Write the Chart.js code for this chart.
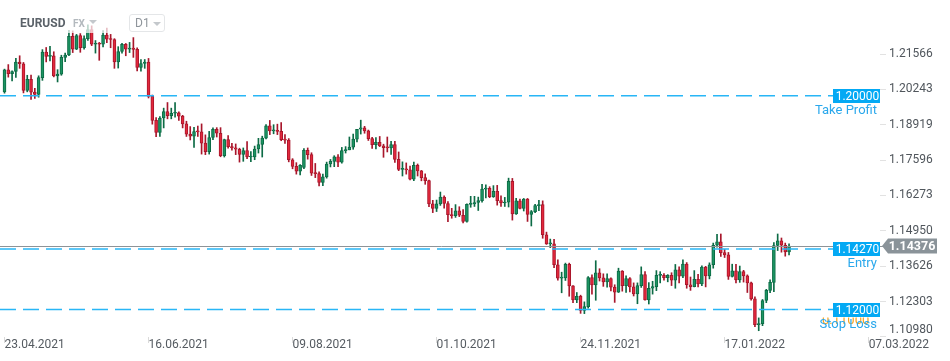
<!DOCTYPE html>
<html>
<head>
<meta charset="utf-8">
<script src="https://cdn.jsdelivr.net/npm/chart.js@4.4.1/dist/chart.umd.min.js"></script>
<style>
  html, body { margin: 0; padding: 0; background: #fff; overflow: hidden; }
  #wrap { position: relative; width: 950px; height: 361px; }
  #chart { position: absolute; left: 0; top: 0; }
  #hdr { position: absolute; left: 0; top: 0; width: 950px; height: 33px; background: rgba(255,255,255,0.72); font-family: Roboto, sans-serif; }
  #hdr .sym { position: absolute; left: 20px; top: 16px; font-weight: bold; font-size: 12px; color: #5b6269; }
  #hdr .fx { position: absolute; left: 73px; top: 18px; font-weight: bold; font-size: 10px; color: #b3b9be; }
  #hdr .tri { position: absolute; width: 0; height: 0; border-left: 4px solid transparent; border-right: 4px solid transparent; border-top: 4px solid #c4c8cc; }
  #hdr .tf { position: absolute; left: 129px; top: 14px; width: 34px; height: 16px; border: 1px solid #e4e6e8; border-radius: 3px; }
  #hdr .tf span { position: absolute; left: 5px; top: 1px; font-size: 12px; color: #8f959b; }
</style>
</head>
<body>
<div id="wrap">
  <canvas id="chart" width="950" height="361"></canvas>
  <div id="hdr">
    <span class="sym">EURUSD</span>
    <span class="fx">FX</span>
    <div class="tri" style="left:89px;top:20px"></div>
    <div class="tf"><span>D1</span><div class="tri" style="left:23px;top:7px"></div></div>
  </div>
</div>
<script>
// daily candles, 23.04.2021 .. 09.02.2022
const opens = [
  1.2015,1.2097,1.2083,1.2091,1.2126,1.2120,1.2020,1.2062,1.2014,1.2005,
  1.2068,1.2164,1.2148,1.2150,1.2075,1.2081,1.2144,1.2153,1.2223,1.2175,
  1.2226,1.2180,1.2214,1.2248,1.2193,1.2194,1.2193,1.2227,1.2212,1.2211,
  1.2127,1.2166,1.2193,1.2175,1.2179,1.2174,1.2106,1.2121,1.2126,1.1998,
  1.1908,1.1863,1.1917,1.1941,1.1926,1.1935,1.1936,1.1924,1.1895,1.1857,
  1.1849,1.1866,1.1865,1.1823,1.1791,1.1844,1.1875,1.1860,1.1776,1.1836,
  1.1810,1.1805,1.1800,1.1781,1.1795,1.1771,1.1771,1.1801,1.1818,1.1842,
  1.1888,1.1869,1.1871,1.1867,1.1836,1.1834,1.1761,1.1736,1.1718,1.1732,
  1.1796,1.1780,1.1711,1.1709,1.1676,1.1697,1.1745,1.1755,1.1772,1.1752,
  1.1795,1.1798,1.1808,1.1838,1.1875,1.1880,1.1869,1.1840,1.1817,1.1826,
  1.1813,1.1806,1.1805,1.1818,1.1762,1.1725,1.1727,1.1723,1.1688,1.1740,
  1.1719,1.1694,1.1683,1.1596,1.1579,1.1596,1.1621,1.1597,1.1555,1.1552,
  1.1570,1.1553,1.1530,1.1594,1.1596,1.1601,1.1608,1.1651,1.1654,1.1623,
  1.1643,1.1608,1.1599,1.1602,1.1680,1.1558,1.1607,1.1579,1.1614,1.1556,
  1.1567,1.1589,1.1593,1.1480,1.1446,1.1446,1.1368,1.1318,1.1319,1.1369,
  1.1289,1.1236,1.1250,1.1197,1.1211,1.1320,1.1292,1.1338,1.1319,1.1304,
  1.1316,1.1284,1.1265,1.1344,1.1290,1.1316,1.1285,1.1259,1.1290,1.1331,
  1.1236,1.1280,1.1286,1.1328,1.1328,1.1320,1.1328,1.1310,1.1349,1.1325,
  1.1370,1.1293,1.1286,1.1313,1.1296,1.1359,1.1326,1.1368,1.1441,1.1454,
  1.1413,1.1405,1.1324,1.1345,1.1311,1.1342,1.1326,1.1300,1.1240,1.1144,
  1.1147,1.1234,1.1272,1.1302,1.1440,1.1457,1.1441,1.1416
]
const highs = [
  1.2100,1.2117,1.2094,1.2140,1.2150,1.2125,1.2077,1.2078,1.2028,1.2075,
  1.2173,1.2181,1.2185,1.2165,1.2098,1.2152,1.2160,1.2245,1.2243,1.2230,
  1.2233,1.2225,1.2266,1.2262,1.2207,1.2200,1.2244,1.2254,1.2230,1.2214,
  1.2184,1.2197,1.2196,1.2200,1.2218,1.2180,1.2136,1.2136,1.2140,1.2003,
  1.1919,1.1922,1.1954,1.1975,1.1954,1.1975,1.1940,1.1927,1.1905,1.1885,
  1.1882,1.1887,1.1895,1.1854,1.1867,1.1880,1.1881,1.1881,1.1838,1.1851,
  1.1822,1.1820,1.1804,1.1805,1.1829,1.1791,1.1812,1.1841,1.1849,1.1892,
  1.1908,1.1892,1.1894,1.1900,1.1855,1.1840,1.1765,1.1750,1.1743,1.1803,
  1.1805,1.1787,1.1747,1.1716,1.1707,1.1752,1.1762,1.1776,1.1780,1.1807,
  1.1810,1.1846,1.1857,1.1873,1.1909,1.1886,1.1872,1.1845,1.1844,1.1848,
  1.1819,1.1846,1.1830,1.1830,1.1790,1.1753,1.1749,1.1737,1.1752,1.1745,
  1.1721,1.1708,1.1685,1.1609,1.1610,1.1640,1.1626,1.1604,1.1579,1.1593,
  1.1585,1.1574,1.1596,1.1624,1.1624,1.1621,1.1669,1.1667,1.1660,1.1664,
  1.1665,1.1626,1.1620,1.1692,1.1691,1.1616,1.1614,1.1616,1.1616,1.1571,
  1.1594,1.1609,1.1607,1.1490,1.1464,1.1463,1.1386,1.1340,1.1374,1.1374,
  1.1290,1.1264,1.1254,1.1229,1.1324,1.1330,1.1383,1.1353,1.1334,1.1334,
  1.1319,1.1293,1.1355,1.1346,1.1326,1.1320,1.1300,1.1300,1.1360,1.1342,
  1.1301,1.1306,1.1346,1.1342,1.1335,1.1331,1.1338,1.1369,1.1360,1.1386,
  1.1376,1.1322,1.1346,1.1332,1.1364,1.1362,1.1375,1.1449,1.1482,1.1483,
  1.1425,1.1414,1.1370,1.1369,1.1363,1.1347,1.1330,1.1303,1.1248,1.1169,
  1.1238,1.1276,1.1311,1.1451,1.1483,1.1468,1.1449,1.1446
]
const lows = [
  1.2010,1.2070,1.2056,1.2069,1.2103,1.2011,1.2015,1.1987,1.1990,1.1995,
  1.2058,1.2127,1.2131,1.2071,1.2052,1.2077,1.2128,1.2150,1.2162,1.2173,
  1.2163,1.2175,1.2207,1.2188,1.2160,1.2133,1.2183,1.2199,1.2180,1.2103,
  1.2104,1.2160,1.2150,1.2162,1.2144,1.2093,1.2092,1.2103,1.1992,1.1894,
  1.1847,1.1848,1.1880,1.1914,1.1914,1.1920,1.1908,1.1880,1.1848,1.1835,
  1.1807,1.1848,1.1782,1.1780,1.1782,1.1836,1.1846,1.1772,1.1771,1.1804,
  1.1797,1.1780,1.1752,1.1755,1.1765,1.1754,1.1761,1.1786,1.1771,1.1839,
  1.1855,1.1858,1.1855,1.1832,1.1822,1.1753,1.1727,1.1707,1.1704,1.1727,
  1.1763,1.1702,1.1694,1.1663,1.1664,1.1692,1.1734,1.1735,1.1735,1.1748,
  1.1786,1.1798,1.1800,1.1828,1.1857,1.1860,1.1833,1.1803,1.1801,1.1810,
  1.1770,1.1790,1.1781,1.1751,1.1720,1.1700,1.1707,1.1685,1.1683,1.1700,
  1.1682,1.1669,1.1585,1.1563,1.1567,1.1590,1.1580,1.1529,1.1542,1.1545,
  1.1548,1.1524,1.1527,1.1583,1.1586,1.1571,1.1602,1.1618,1.1619,1.1620,
  1.1591,1.1586,1.1586,1.1584,1.1535,1.1556,1.1577,1.1569,1.1530,1.1513,
  1.1563,1.1570,1.1467,1.1444,1.1432,1.1357,1.1310,1.1263,1.1309,1.1250,
  1.1226,1.1226,1.1186,1.1185,1.1205,1.1258,1.1235,1.1307,1.1287,1.1284,
  1.1270,1.1227,1.1264,1.1269,1.1264,1.1266,1.1251,1.1222,1.1283,1.1235,
  1.1221,1.1258,1.1271,1.1300,1.1310,1.1304,1.1290,1.1280,1.1300,1.1320,
  1.1280,1.1272,1.1285,1.1285,1.1290,1.1285,1.1315,1.1355,1.1434,1.1399,
  1.1395,1.1313,1.1322,1.1300,1.1302,1.1303,1.1264,1.1235,1.1136,1.1121,
  1.1140,1.1226,1.1263,1.1267,1.1421,1.1415,1.1400,1.1405
]
const closes = [
  1.2097,1.2083,1.2091,1.2126,1.2120,1.2020,1.2062,1.2014,1.2005,1.2068,
  1.2164,1.2148,1.2150,1.2075,1.2081,1.2144,1.2153,1.2223,1.2175,1.2226,
  1.2180,1.2214,1.2248,1.2193,1.2194,1.2193,1.2227,1.2212,1.2211,1.2127,
  1.2166,1.2193,1.2175,1.2179,1.2174,1.2106,1.2121,1.2126,1.1998,1.1908,
  1.1863,1.1917,1.1941,1.1926,1.1935,1.1936,1.1924,1.1895,1.1857,1.1849,
  1.1866,1.1865,1.1823,1.1791,1.1844,1.1875,1.1860,1.1776,1.1836,1.1810,
  1.1805,1.1800,1.1781,1.1795,1.1771,1.1771,1.1801,1.1818,1.1842,1.1888,
  1.1869,1.1871,1.1867,1.1836,1.1834,1.1761,1.1736,1.1718,1.1740,1.1796,
  1.1780,1.1711,1.1709,1.1676,1.1697,1.1745,1.1755,1.1772,1.1752,1.1795,
  1.1798,1.1808,1.1838,1.1875,1.1880,1.1869,1.1840,1.1817,1.1826,1.1813,
  1.1806,1.1805,1.1818,1.1762,1.1725,1.1727,1.1723,1.1688,1.1740,1.1719,
  1.1694,1.1683,1.1596,1.1579,1.1596,1.1621,1.1597,1.1555,1.1552,1.1570,
  1.1553,1.1530,1.1594,1.1596,1.1601,1.1608,1.1651,1.1654,1.1623,1.1643,
  1.1608,1.1599,1.1602,1.1680,1.1558,1.1607,1.1579,1.1614,1.1556,1.1567,
  1.1589,1.1593,1.1480,1.1446,1.1446,1.1368,1.1318,1.1319,1.1369,1.1289,
  1.1236,1.1250,1.1197,1.1211,1.1320,1.1292,1.1338,1.1319,1.1304,1.1316,
  1.1284,1.1265,1.1344,1.1290,1.1316,1.1285,1.1259,1.1290,1.1331,1.1236,
  1.1280,1.1286,1.1328,1.1328,1.1320,1.1328,1.1310,1.1349,1.1325,1.1370,
  1.1293,1.1286,1.1313,1.1296,1.1359,1.1326,1.1368,1.1441,1.1454,1.1413,
  1.1405,1.1324,1.1345,1.1311,1.1342,1.1326,1.1300,1.1240,1.1144,1.1147,
  1.1234,1.1272,1.1302,1.1440,1.1457,1.1441,1.1416,1.14376
]

// x axis: one slot per trading day, labels every 38 slots
const dateLabels = ['23.04.2021', '16.06.2021', '09.08.2021', '01.10.2021', '24.11.2021', '17.01.2022', '07.03.2022']
const dateSlots = [0, 38, 76, 114, 152, 190, 228]
const priceTicks = [1.10980, 1.12303, 1.13626, 1.14950, 1.16273, 1.17596, 1.18919, 1.20243, 1.21566]

// order levels
const levelPrices = [1.20000, 1.14270, 1.12000]
const levelNames = ['Take Profit', 'Entry', 'Stop Loss']
const lastPrice = 1.14376

const UP_FILL = '#1c9462', UP_LINE = '#0c6b45'
const DN_FILL = '#e3283c', DN_LINE = '#a8162b'
const isUp = i => closes[i] >= opens[i]

const bodyData = closes.map((c, i) => ({x: i, y: [opens[i], c]}))
const wickData = closes.map((c, i) => ({x: i, y: [lows[i], highs[i]]}))

const levelsPlugin = {
  id: 'levels',
  afterDatasetsDraw(chart) {
    const c = chart.ctx
    const yS = chart.scales.y
    const area = chart.chartArea
    const boxL = 833, boxR = 880
    c.save()
    // last price line
    const yp = Math.round(yS.getPixelForValue(lastPrice)) + 0.5
    c.strokeStyle = '#8d9397'
    c.lineWidth = 1
    c.beginPath(); c.moveTo(area.left, yp); c.lineTo(area.right + 3, yp); c.stroke()

    for (let k = 0; k < levelPrices.length; k += 1) {
      const y = yS.getPixelForValue(levelPrices[k])
      c.strokeStyle = '#29b6f6'
      c.lineWidth = 1.5
      c.setLineDash([16, 7])
      c.beginPath(); c.moveTo(0, y); c.lineTo(boxL, y); c.stroke()
      c.setLineDash([])
      if (levelNames[k] === 'Stop Loss') {
        c.save()
        c.beginPath(); c.rect(boxL - 20, y + 8, 70, 20); c.clip()
        c.fillStyle = '#f6a21e'
        c.font = '13px Roboto'
        c.textAlign = 'left'; c.textBaseline = 'middle'
        c.fillText('0.11000', 822, y + 11)
        c.restore()
      }
      c.fillStyle = '#03a9f4'
      c.fillRect(boxL, Math.round(y) - 7, boxR - boxL, 14)
      c.fillStyle = '#ffffff'
      c.font = '12px Roboto'
      c.textAlign = 'center'; c.textBaseline = 'middle'
      c.fillText(levelPrices[k].toFixed(5), (boxL + boxR) / 2 + 1, Math.round(y) + 0.5)
      c.fillStyle = '#2aa8ec'
      c.font = '13px Roboto'
      c.textAlign = 'right'
      c.fillText(levelNames[k], 877, y + 15)
    }

    // last price tag on the axis
    const ty = yS.getPixelForValue(lastPrice)
    c.fillStyle = '#8a9399'
    c.beginPath()
    c.moveTo(882, ty)
    c.lineTo(888, ty - 7.5)
    c.lineTo(937, ty - 7.5)
    c.lineTo(937, ty + 7.5)
    c.lineTo(888, ty + 7.5)
    c.closePath(); c.fill()
    c.fillStyle = '#ffffff'
    c.font = 'bold 12.5px Roboto'
    c.textAlign = 'center'; c.textBaseline = 'middle'
    c.fillText(lastPrice.toFixed(5), 912, ty + 0.5)
    c.restore()
  }
}

new Chart(document.getElementById('chart'), {
  type: 'bar',
  data: {
    datasets: [
      {
        label: 'body',
        data: bodyData,
        backgroundColor: ctx => isUp(ctx.dataIndex) ? UP_FILL : DN_FILL,
        borderColor: ctx => isUp(ctx.dataIndex) ? UP_LINE : DN_LINE,
        borderWidth: 1,
        borderSkipped: false,
        barThickness: 3,
        minBarLength: 1,
        grouped: false
      },
      {
        label: 'wick',
        data: wickData,
        backgroundColor: ctx => isUp(ctx.dataIndex) ? UP_LINE : DN_LINE,
        borderWidth: 0,
        barThickness: 1,
        grouped: false
      }
    ]
  },
  options: {
    responsive: false,
    animation: false,
    layout: {padding: 0},
    plugins: {legend: {display: false}, tooltip: {enabled: false}},
    scales: {
      x: {
        type: 'linear',
        min: -1.19,
        max: 231,
        offset: false,
        bounds: 'data',
        border: {display: false},
        grid: {offset: false, drawOnChartArea: false, tickLength: 6, color: '#dadada'},
        afterBuildTicks: s => { s.ticks = dateSlots.map(v => ({value: v})) },
        afterFit: s => { s.height = 24; s.paddingLeft = 0; s.paddingRight = 0 },
        ticks: {
          autoSkip: false,
          maxRotation: 0,
          align: 'start',
          padding: -5,
          color: '#555b61',
          font: {family: 'Roboto', size: 12},
          callback: v => dateLabels[dateSlots.indexOf(v)]
        }
      },
      y: {
        position: 'right',
        min: 1.10975,
        max: 1.23587,
        beginAtZero: false,
        bounds: 'data',
        border: {display: false},
        grid: {drawOnChartArea: false, tickLength: 6, color: '#e2e2e2'},
        afterBuildTicks: s => { s.ticks = priceTicks.map(v => ({value: v})) },
        afterFit: s => { s.width = 70; s.paddingTop = 0; s.paddingBottom = 0 },
        ticks: {
          padding: 3,
          color: '#50565c',
          font: {family: 'Roboto', size: 12},
          callback: v => v === priceTicks[0] ? [v.toFixed(5), ''] : v.toFixed(5)
        }
      }
    }
  },
  plugins: [levelsPlugin]
})
</script>
</body>
</html>
